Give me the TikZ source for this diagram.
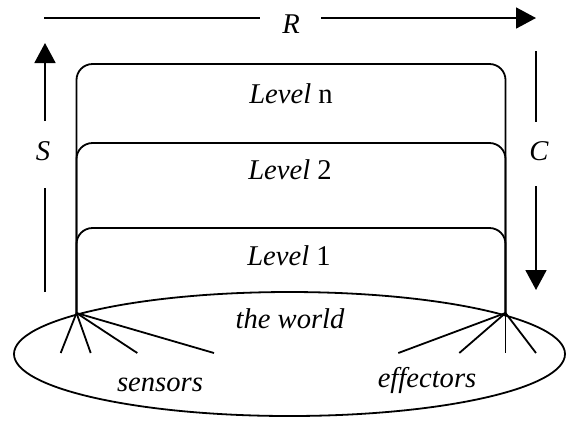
\documentclass[tikz,border=0pt]{standalone}
\usepackage{fontspec}
\setmainfont{Liberation Serif}
\usetikzlibrary{arrows.meta}
\usetikzlibrary{positioning}
\newcommand{\edgeColor}{black}
\tikzset{edge/.style = {\edgeColor, line width=0.9pt}}
\tikzset{flow/.style = {edge, -{Triangle[length=10pt,width=10.5pt]}}}
\tikzset{levelbox/.style = {edge, rounded corners=8pt}}
\tikzset{txt/.style = {font=\fontsize{14.3}{17}\selectfont\itshape, inner sep=0pt, anchor=base}}

\begin{document}
\begin{tikzpicture}[x=0.5pt,y=-0.5pt]
                    \useasboundingbox (0,0) rectangle (567,420);
                    \def\xl{76.5}
                    \def\xr{505.5}
                    \def\yb{313}
                    \coordinate (sensorHub) at (\xl,\yb);
                    \coordinate (effectorHub) at (\xr,\yb);

                    % the world
                    \draw[edge] (289.5,354) ellipse [x radius=137.75pt, y radius=31pt];
                    \node[txt] (world) at (290,328) {the world};
                    \node[txt] (sensors) at (160,391.5) {sensors};
                    \node[txt] (effectors) at (427,387.5) {effectors};

                    % the levels, top one first
                    \foreach \top in {64,143,228}
                        \draw[levelbox] (sensorHub) -- (\xl,\top) -- (\xr,\top) -- (effectorHub);
                    \node[txt] (levelN) at (291,103) {Level \upshape n};
                    \node[txt] (levelTwo) at (290,179.5) {Level \upshape 2};
                    \node[txt] (levelOne) at (289,265) {Level \upshape 1};

                    % sensors and effectors
                    \foreach \x in {60.7,90.7,137.3,214}
                        \draw[edge] (sensorHub) -- (\x,353);
                    \foreach \x in {398.3,459.3,\xr,536}
                        \draw[edge] (effectorHub) -- (\x,353);

                    % R on top
                    \coordinate (rStart) at (44,18);
                    \coordinate (rGapLeft) at (260,18);
                    \coordinate (rGapRight) at (321,18);
                    \coordinate (rEnd) at (536,18);
                    \node[txt] (rLabel) at (291,33) {R};
                    \draw[edge] (rStart) -- (rGapLeft);
                    \draw[flow] (rGapRight) -- (rEnd);

                    % S on the left
                    \coordinate (sBottom) at (45,292);
                    \coordinate (sGapLow) at (45,188);
                    \coordinate (sGapHigh) at (45,121);
                    \coordinate (sTop) at (45,43);
                    \node[txt] (sLabel) at (43,160) {S};
                    \draw[edge] (sBottom) -- (sGapLow);
                    \draw[flow] (sGapHigh) -- (sTop);

                    % C on the right
                    \coordinate (cTop) at (536,51);
                    \coordinate (cGapHigh) at (536,122);
                    \coordinate (cGapLow) at (536,186);
                    \coordinate (cBottom) at (536,290);
                    \node[txt] (cLabel) at (539,160) {C};
                    \draw[edge] (cTop) -- (cGapHigh);
                    \draw[flow] (cGapLow) -- (cBottom);
                \end{tikzpicture}
\end{document}
